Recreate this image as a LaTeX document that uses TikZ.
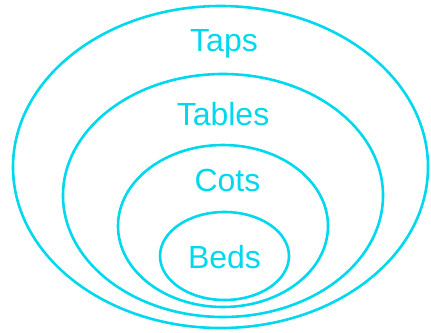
\documentclass[tikz,border=0pt]{standalone}
\usepackage{fontspec}
\setmainfont{Liberation Sans}
\definecolor{setcyan}{RGB}{0,216,238}
\begin{document}
\begin{tikzpicture}[x=1pt,y=-1pt,
  setline/.style={draw=setcyan,line width=2.6pt},
  setlabel/.style={text=setcyan,anchor=base,inner sep=0pt,font=\fontsize{32}{38}\selectfont}]
\useasboundingbox (0,0) rectangle (431,332);
\draw[setline] (220.5,167) ellipse [x radius=207.5, y radius=161];
\draw[setline] (223,195.5) ellipse [x radius=160, y radius=121.5];
\draw[setline] (223,226) ellipse [x radius=105, y radius=81];
\draw[setline] (224.5,256) ellipse [x radius=64.5, y radius=44];
\node[setlabel] (taps) at (224,51) {Taps};
\node[setlabel] (tables) at (223,125) {Tables};
\node[setlabel] (cots) at (227.5,191) {Cots};
\node[setlabel] (beds) at (224.5,268) {Beds};
\end{tikzpicture}
\end{document}
